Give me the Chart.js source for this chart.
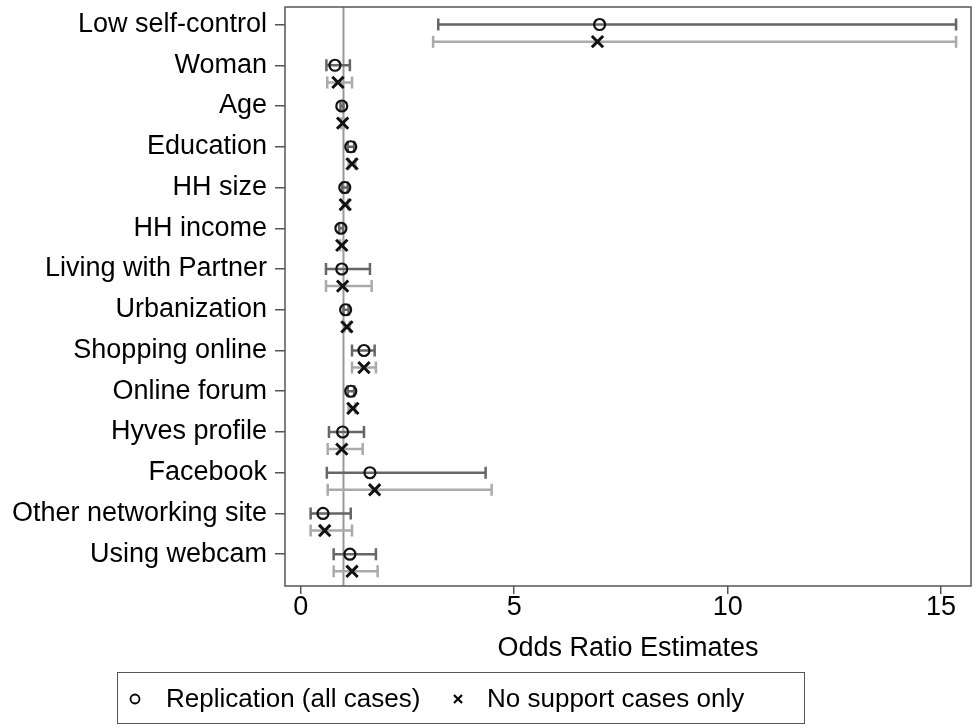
<!DOCTYPE html>
<html>
<head>
<meta charset="utf-8">
<script src="https://cdn.jsdelivr.net/npm/chart.js@4"></script>
<style>
  html, body { margin: 0; padding: 0; background: #fff; }
  #wrap { position: relative; width: 977px; height: 727px; }
  #legend {
    position: absolute; left: 117px; top: 672px; width: 688px; height: 52px;
    border: 1.5px solid #555; box-sizing: border-box;
    font-family: "Liberation Sans", Arial, sans-serif; font-size: 26px; color: #000;
  }
  #legend span { position: absolute; top: 10px; }
  #legend svg { position: absolute; top: 19px; }
</style>
</head>
<body>
<div id="wrap">
  <canvas id="orChart" width="977" height="727"></canvas>
  <div id="legend">
    <svg style="left:10px" width="14" height="14"><circle cx="7" cy="7" r="4.5" fill="none" stroke="#000" stroke-width="1.8"/></svg>
    <span style="left:48px">Replication (all cases)</span>
    <svg style="left:333px" width="14" height="14"><path d="M3 3 L11 11 M11 3 L3 11" stroke="#000" stroke-width="2.2"/></svg>
    <span style="left:369px">No support cases only</span>
  </div>
</div>
<script>
const categories = ['Low self-control', 'Woman', 'Age', 'Education', 'HH size', 'HH income',
    'Living with Partner', 'Urbanization', 'Shopping online', 'Online forum', 'Hyves profile',
    'Facebook', 'Other networking site', 'Using webcam'];

// Replication (all cases): estimate and confidence interval
const replEst = [7.00, 0.80, 0.96, 1.17, 1.03, 0.94, 0.96, 1.05, 1.48, 1.17, 0.98, 1.62, 0.52, 1.15];
const replLo  = [3.22, 0.60, 0.93, 1.10, 0.97, 0.90, 0.59, 1.00, 1.20, 1.10, 0.66, 0.61, 0.23, 0.77];
const replHi  = [15.35, 1.15, 1.00, 1.25, 1.10, 0.99, 1.62, 1.12, 1.73, 1.25, 1.48, 4.33, 1.17, 1.76];

// No support cases only
const nsEst = [6.95, 0.87, 0.98, 1.20, 1.04, 0.96, 0.98, 1.08, 1.48, 1.22, 0.96, 1.73, 0.56, 1.20];
const nsLo  = [3.10, 0.62, 0.95, 1.12, 0.98, 0.92, 0.59, 1.02, 1.20, 1.12, 0.63, 0.63, 0.23, 0.77];
const nsHi  = [15.35, 1.20, 1.01, 1.28, 1.11, 1.00, 1.66, 1.15, 1.76, 1.28, 1.45, 4.47, 1.20, 1.80];

const xTicks = [0, 5, 10, 15];
const refValue = 1;
const nsOffset = 0.42; // second series sits a bit below each row

const FONT = { family: '"Liberation Sans", Arial, sans-serif', size: 27 };

// reference line, frame and confidence intervals
const forestPlugin = {
    id: 'forest',
    beforeDatasetsDraw(chart) {
        const { ctx, chartArea: a, scales: { x, y } } = chart;
        ctx.save();
        // vertical reference line at OR = 1
        const rx = x.getPixelForValue(refValue);
        ctx.strokeStyle = '#999';
        ctx.lineWidth = 2;
        ctx.beginPath();
        ctx.moveTo(rx, a.top);
        ctx.lineTo(rx, a.bottom);
        ctx.stroke();

        const series = [
            { lo: replLo, hi: replHi, off: 0, color: '#666' },
            { lo: nsLo, hi: nsHi, off: nsOffset, color: '#aaa' }
        ];
        series.forEach(s => {
            ctx.strokeStyle = s.color;
            ctx.lineWidth = 2.5;
            for (let i = 0; i < categories.length; i++) {
                const py = y.getPixelForValue(i + s.off);
                const x0 = x.getPixelForValue(s.lo[i]);
                const x1 = x.getPixelForValue(s.hi[i]);
                ctx.beginPath();
                ctx.moveTo(x0, py);
                ctx.lineTo(x1, py);
                ctx.moveTo(x0, py - 6);
                ctx.lineTo(x0, py + 6);
                ctx.moveTo(x1, py - 6);
                ctx.lineTo(x1, py + 6);
                ctx.stroke();
            }
        });

        // frame around plot region
        ctx.strokeStyle = '#555';
        ctx.lineWidth = 1.5;
        ctx.strokeRect(a.left, a.top, a.right - a.left, a.bottom - a.top);
        ctx.restore();
    }
};

function initChart() {
    const ctx = document.getElementById('orChart').getContext('2d');
    new Chart(ctx, {
        type: 'scatter',
        data: {
            datasets: [{
                label: 'Replication (all cases)',
                data: replEst.map((v, i) => ({ x: v, y: i })),
                pointStyle: 'circle',
                pointRadius: 5.5,
                borderWidth: 2.2,
                borderColor: '#111',
                backgroundColor: 'rgba(0,0,0,0)'
            }, {
                label: 'No support cases only',
                data: nsEst.map((v, i) => ({ x: v, y: i + nsOffset })),
                pointStyle: 'crossRot',
                pointRadius: 8,
                borderWidth: 3,
                borderColor: '#111'
            }]
        },
        options: {
            responsive: false,
            animation: false,
            layout: { autoPadding: false, padding: { top: 7, right: 6, left: 0, bottom: 62 } },
            plugins: {
                legend: { display: false },
                tooltip: { enabled: false }
            },
            scales: {
                x: {
                    type: 'linear',
                    min: -0.37,
                    max: 15.7,
                    afterBuildTicks: s => { s.ticks = xTicks.map(v => ({ value: v })); },
                    afterFit: s => { s.height = 79; s.paddingLeft = 0; s.paddingRight = 0; },
                    border: { display: false },
                    grid: { drawOnChartArea: false, tickLength: 8, color: '#555', lineWidth: 1.5 },
                    ticks: { font: FONT, color: '#000', padding: -3, maxRotation: 0 },
                    title: {
                        display: true,
                        text: 'Odds Ratio Estimates',
                        font: FONT,
                        color: '#000',
                        padding: { top: 0, bottom: 0 }
                    }
                },
                y: {
                    type: 'linear',
                    reverse: true,
                    min: -0.43,
                    max: 13.78,
                    afterBuildTicks: s => { s.ticks = categories.map((c, i) => ({ value: i })); },
                    afterFit: s => { s.width = 285; s.paddingTop = 0; s.paddingBottom = 0; },
                    border: { display: false },
                    grid: { drawOnChartArea: false, tickLength: 10, color: '#555', lineWidth: 1.5 },
                    ticks: {
                        font: FONT,
                        color: '#000',
                        padding: 8,
                        callback: v => categories[v]
                    }
                }
            }
        },
        plugins: [forestPlugin]
    });
}

document.addEventListener('DOMContentLoaded', () => {
    initChart();
});
</script>
</body>
</html>
